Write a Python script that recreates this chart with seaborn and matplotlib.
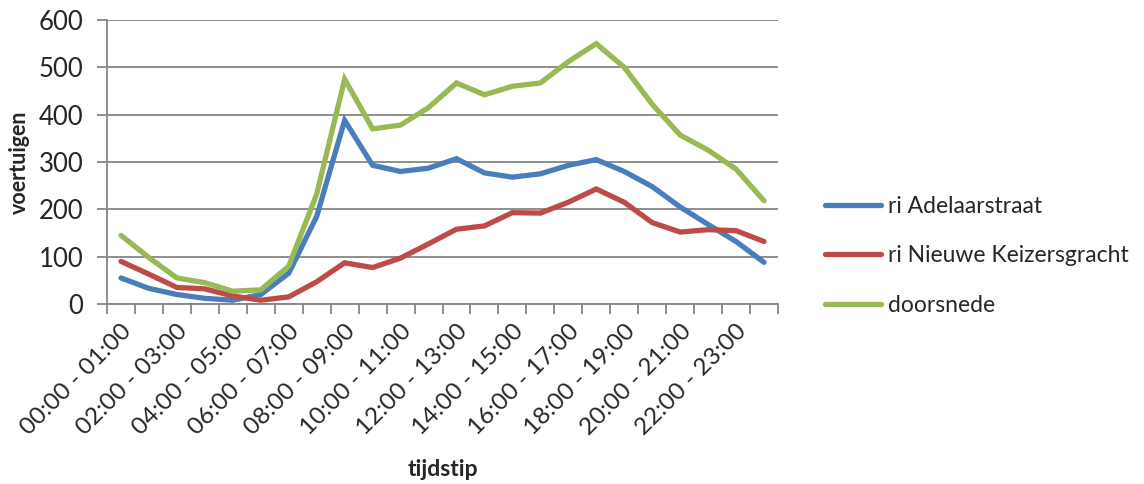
import matplotlib
matplotlib.use("Agg")
import matplotlib.pyplot as plt
import seaborn as sns
import pandas as pd
import numpy as np

hours = [f"{h:02d}:00 - {h+1:02d}:00" for h in range(24)]
adelaar = [55, 33, 20, 12, 8, 20, 65, 185, 388, 293, 280, 287, 307, 277, 268, 275, 293, 305, 280, 248, 205, 168, 132, 88]
keizers = [90, 63, 35, 32, 17, 8, 15, 47, 87, 77, 97, 127, 158, 165, 193, 192, 215, 243, 215, 172, 152, 157, 155, 132]
doorsnede = [145, 98, 55, 45, 27, 30, 80, 232, 475, 370, 378, 415, 467, 442, 460, 467, 512, 550, 500, 422, 357, 325, 285, 218]
series_names = ["ri Adelaarstraat", "ri Nieuwe Keizersgracht", "doorsnede"]
colors = ["#4A7EBB", "#BE4B48", "#98B954"]

df = pd.DataFrame({
    "pos": list(range(24)) * 3,
    "tijdstip": hours * 3,
    "voertuigen": adelaar + keizers + doorsnede,
    "serie": [series_names[0]] * 24 + [series_names[1]] * 24 + [series_names[2]] * 24,
})

sns.set_theme(style="white")
plt.rcParams["font.family"] = ["Lato", "DejaVu Sans"]

fig = plt.figure(figsize=(11.44, 4.84), dpi=100)
ax = fig.add_axes([107 / 1144, 1 - 304 / 484, (778 - 107) / 1144, (304 - 20) / 484])

sns.lineplot(data=df, x="pos", y="voertuigen", hue="serie", hue_order=series_names,
             palette=colors, linewidth=3.8, ax=ax, legend=True)
for ln in ax.get_lines():
    ln.set_solid_capstyle("round")
    ln.set_solid_joinstyle("miter")

ax.set_xlim(-0.5, 23.5)
ax.set_ylim(0, 600)
ax.set_yticks(np.arange(0, 601, 100))
ax.yaxis.grid(True, color="#868686", linewidth=1.3)
ax.set_axisbelow(True)

ax.set_xticks(np.arange(-0.5, 24, 1), minor=False)
ax.set_xticklabels([])
ax.set_xticks(np.arange(0, 24, 2), minor=True)
ax.set_xticklabels([hours[i] for i in range(0, 24, 2)], minor=True, rotation=45,
                   ha="right", va="top", rotation_mode="anchor", fontsize=17.5)
ax.tick_params(axis="x", which="major", length=7, width=1.3, color="#868686", direction="out", bottom=True)
ax.tick_params(axis="x", which="minor", length=0, pad=12, bottom=True)
ax.tick_params(axis="y", length=7, width=1.3, color="#868686", direction="out", left=True, labelsize=18.5, pad=10)

for s in ["top", "right"]:
    ax.spines[s].set_visible(False)
for s in ["left", "bottom"]:
    ax.spines[s].set_color("#868686")
    ax.spines[s].set_linewidth(1.3)

ax.set_xlabel("tijdstip", fontsize=16.5, fontweight="bold", labelpad=14)
ax.set_ylabel("voertuigen", fontsize=15.5, fontweight="bold", labelpad=6)

leg = ax.legend(loc="center left", bbox_to_anchor=(804 / 1144, 1 - 256 / 484), bbox_transform=fig.transFigure,
                frameon=False, fontsize=16.5, handlelength=2.45, handletextpad=0.3, labelspacing=1.25)
for h in leg.get_lines():
    h.set_linewidth(3.8)

fig.savefig("out.png", dpi=100)
